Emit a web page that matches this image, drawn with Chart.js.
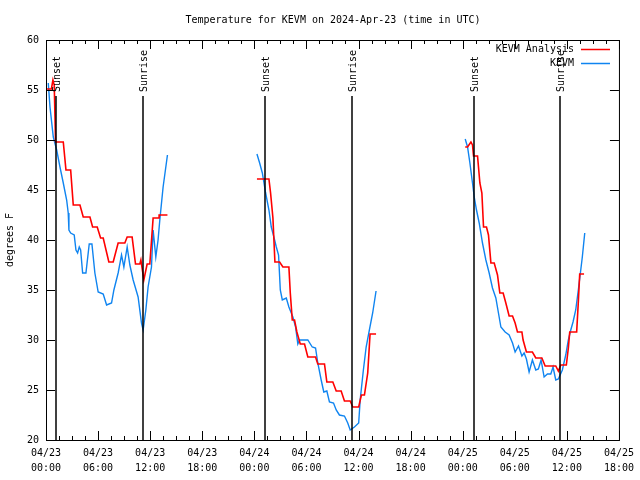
<!DOCTYPE html>
<html><head><meta charset="utf-8">
<script src="https://cdn.jsdelivr.net/npm/chart.js@4/dist/chart.umd.min.js"></script>
<style>html,body{margin:0;padding:0;background:#fff}#w{width:640px;height:480px}</style>
</head><body><div id="w"><canvas id="c" width="640" height="480"></canvas></div>
<script>
const chartTitle = 'Temperature for KEVM on 2024-Apr-23 (time in UTC)';
const yTitle = 'degrees F';
const seriesNames = ['KEVM Analysis', 'KEVM'];
const seriesColors = ['#ff0000', '#0f84f0'];
// hours since 04/23 00:00 UTC ; null temp = gap
const analysisHours = [0.08,0.62,0.80,0.95,1.10,1.99,2.30,2.84,3.14,3.91,4.29,5.06,5.37,5.90,6.29,6.59,7.24,7.74,8.31,9.08,9.35,9.92,10.31,10.81,10.93,11.27,11.65,11.96,12.34,13.03,13.03,13.99,
  18,
  24.30,25.68,25.87,26.14,26.37,26.91,27.29,27.98,28.14,28.37,28.63,28.90,29.29,29.78,30.16,31.05,31.31,32.08,32.35,33.04,33.43,34.00,34.38,35.04,35.34,36.02,36.33,36.68,37.06,37.33,38.02,
  43,
  48.29,48.56,48.95,49.13,49.25,49.71,49.98,50.21,50.40,50.74,50.97,51.25,51.63,52.01,52.28,52.66,52.97,53.35,53.74,54.04,54.31,54.82,54.96,55.34,56.03,56.42,57.12,57.50,58.72,59.02,59.30,59.94,60.17,60.33,61.13,61.32,61.48,61.98];
const analysisTemps = [55.1,55.1,56.0,55.5,49.8,49.8,47.0,47.0,43.5,43.5,42.3,42.3,41.3,41.3,40.2,40.2,37.8,37.8,39.7,39.7,40.3,40.3,37.6,37.6,38.0,36.0,37.6,37.6,42.2,42.2,42.5,42.5,
  null,
  46.1,46.1,44.7,42.2,37.8,37.8,37.3,37.3,34.7,32.0,32.0,30.8,29.6,29.6,28.3,28.3,27.6,27.6,25.8,25.8,24.9,24.9,23.9,23.9,23.3,23.3,24.5,24.5,26.7,30.6,30.6,
  null,
  49.3,49.3,49.8,49.5,48.4,48.4,45.7,44.7,41.3,41.3,40.5,37.7,37.7,36.5,34.7,34.7,33.7,32.4,32.4,31.7,30.8,30.8,30.0,28.8,28.8,28.2,28.2,27.4,27.4,26.9,27.5,27.5,29.2,30.8,30.8,33.8,36.6,36.6];
const kevmHours = [0.26,0.46,0.84,1.23,1.61,1.99,2.38,2.56,2.64,2.84,3.25,3.45,3.64,3.83,3.99,4.22,4.60,4.98,5.29,5.63,6.01,6.59,6.98,7.55,7.82,8.31,8.70,8.97,9.35,9.66,10.04,10.61,11.00,11.19,11.50,11.76,12.15,12.34,12.65,12.91,13.11,13.49,13.99,
  18,
  24.30,24.61,24.92,25.30,25.68,25.95,26.25,26.53,26.79,26.99,27.22,27.68,27.98,28.44,28.75,29.01,29.21,30.16,30.67,31.05,31.31,31.70,32.00,32.35,32.65,33.12,33.43,33.80,34.38,34.76,35.04,35.53,36.02,36.19,36.56,36.88,37.25,37.63,38.02,
  43,
  48.29,48.56,48.83,49.13,49.33,49.59,49.90,50.28,50.67,51.05,51.43,51.82,52.12,52.40,52.89,53.35,53.74,54.04,54.43,54.82,55.08,55.34,55.65,56.03,56.42,56.72,57.03,57.38,57.76,58.15,58.41,58.72,59.02,59.48,59.87,60.17,60.45,60.71,61.02,61.32,61.60,61.78,62.06];
const kevmTemps = [55.7,53.3,50.3,49.0,47.3,45.7,44.0,42.7,41.0,40.7,40.5,39.0,38.7,39.3,39.0,36.7,36.7,39.6,39.6,36.7,34.8,34.6,33.5,33.7,35.0,36.7,38.5,37.3,39.3,37.5,36.0,34.3,31.7,31.0,33.0,35.3,37.3,41.0,38.3,40.0,42.0,45.3,48.5,
  null,
  48.6,47.7,46.7,44.7,43.0,41.3,40.3,39.3,38.5,35.0,34.0,34.2,33.3,32.3,31.3,29.6,30.0,30.0,29.3,29.2,27.7,26.0,24.8,24.9,23.8,23.7,23.0,22.5,22.4,21.7,21.0,21.3,21.7,24.0,27.0,29.3,31.0,32.7,34.9,
  null,
  50.1,49.3,47.7,45.7,44.3,43.0,41.7,39.7,38.0,36.7,35.2,34.2,32.7,31.3,30.8,30.5,29.7,28.8,29.4,28.4,28.7,28.1,26.8,28.0,27.0,27.1,28.0,26.3,26.6,26.6,27.3,26.0,26.1,27.0,28.5,30.0,31.0,31.8,33.0,35.0,37.0,38.3,40.7];
const eventHours = [1.1, 11.2, 25.2, 35.2, 49.25, 59.25];
const eventLabels = ['Sunset','Sunrise','Sunset','Sunrise','Sunset','Sunrise'];
const xMin = 0, xMax = 66, xStep = 6, xMinorStep = 1.5;
const yMin = 20, yMax = 60, yStep = 5;

const FONT = '"DejaVu Sans Mono", "Liberation Mono", monospace';
function zip(h, t){ const n=Math.min(h.length,t.length); const o=[]; for(let i=0;i<n;i++) o.push({x:h[i], y:t[i]}); return o; }
function fmtX(v){ const d = 23 + Math.floor(v/24); const hr = Math.round(v%24); return ['04/'+d, String(hr).padStart(2,'0')+':00']; }

const deco = {
  id:'deco',
  afterDatasetsDraw(chart){
    const ctx = chart.ctx, a = chart.chartArea, xs = chart.scales.x, ys = chart.scales.y;
    ctx.save();
    // event lines
    ctx.strokeStyle = '#000'; ctx.lineWidth = 1.5;
    const lineTop = ys.getPixelForValue(54.4), textBase = ys.getPixelForValue(54.8);
    eventHours.forEach((h,i)=>{
      const px = Math.round(xs.getPixelForValue(h));
      ctx.beginPath(); ctx.moveTo(px, a.bottom); ctx.lineTo(px, lineTop); ctx.stroke();
      ctx.save(); ctx.translate(px+1, textBase); ctx.rotate(-Math.PI/2);
      ctx.fillStyle='#000'; ctx.font = '10px '+FONT; ctx.textAlign='left'; ctx.textBaseline='middle';
      ctx.fillText(eventLabels[i], 0, 0); ctx.restore();
    });
    // border
    ctx.lineWidth = 1; ctx.strokeStyle = '#000';
    ctx.strokeRect(a.left+0.5, a.top+0.5, a.right-a.left, a.bottom-a.top);
    // ticks (inward, mirrored)
    ctx.beginPath();
    for (let v = xMin; v <= xMax + 1e-9; v += xMinorStep) {
      const px = Math.round(xs.getPixelForValue(v)) + 0.5;
      const major = Math.abs(v/xStep - Math.round(v/xStep)) < 1e-6;
      const L = major ? 9 : 4;
      ctx.moveTo(px, a.bottom); ctx.lineTo(px, a.bottom - L);
      ctx.moveTo(px, a.top); ctx.lineTo(px, a.top + L);
    }
    for (let v = yMin; v <= yMax + 1e-9; v += yStep) {
      const py = Math.round(ys.getPixelForValue(v)) + 0.5;
      ctx.moveTo(a.left, py); ctx.lineTo(a.left + 9, py);
      ctx.moveTo(a.right, py); ctx.lineTo(a.right - 9, py);
    }
    ctx.stroke();
    // title & y title
    ctx.fillStyle = '#000'; ctx.font = '10px '+FONT; ctx.textAlign='center'; ctx.textBaseline='middle';
    ctx.fillText(chartTitle, 333, 20);
    ctx.save(); ctx.translate(10, 240); ctx.rotate(-Math.PI/2); ctx.fillText(yTitle, 0, 0); ctx.restore();
    // legend
    ctx.textAlign='right';
    seriesNames.forEach((n,i)=>{
      const y = 49 + i*14;
      ctx.fillStyle='#000'; ctx.fillText(n, 574, y);
      ctx.strokeStyle = seriesColors[i]; ctx.lineWidth = 1.5;
      ctx.beginPath(); ctx.moveTo(581, y+0.5); ctx.lineTo(610, y+0.5); ctx.stroke();
    });
    ctx.restore();
  }
};

new Chart(document.getElementById('c'), {
  type:'line',
  data:{ datasets:[
    { label: seriesNames[0], data: zip(analysisHours, analysisTemps), borderColor: seriesColors[0], borderWidth: 1.6, pointRadius:0, tension:0, spanGaps:false },
    { label: seriesNames[1], data: zip(kevmHours, kevmTemps), borderColor: seriesColors[1], borderWidth: 1.4, pointRadius:0, tension:0, spanGaps:false }
  ]},
  options:{
    responsive:false, animation:false, events:[],
    layout:{ padding:{ top:40, right:20, left:0, bottom:0 } },
    plugins:{ legend:{display:false}, title:{display:false}, tooltip:{enabled:false} },
    scales:{
      x:{ type:'linear', min:xMin, max:xMax,
        grid:{ display:false, drawTicks:false }, border:{display:false},
        afterFit(s){ s.height = 40; },
        afterBuildTicks(s){ const t=[]; for(let v=xMin; v<=xMax; v+=xStep) t.push({value:v}); s.ticks=t; },
        ticks:{ autoSkip:false, maxRotation:0, padding:6, color:'#000', font:{family:FONT, size:10, lineHeight:1.5}, callback:(v)=>fmtX(v) } },
      y:{ type:'linear', min:yMin, max:yMax,
        grid:{ display:false, drawTicks:false }, border:{display:false},
        afterFit(s){ s.width = 46; },
        ticks:{ stepSize:yStep, padding:7, color:'#000', font:{family:FONT, size:10} } }
    }
  },
  plugins:[deco]
});
</script></body></html>
